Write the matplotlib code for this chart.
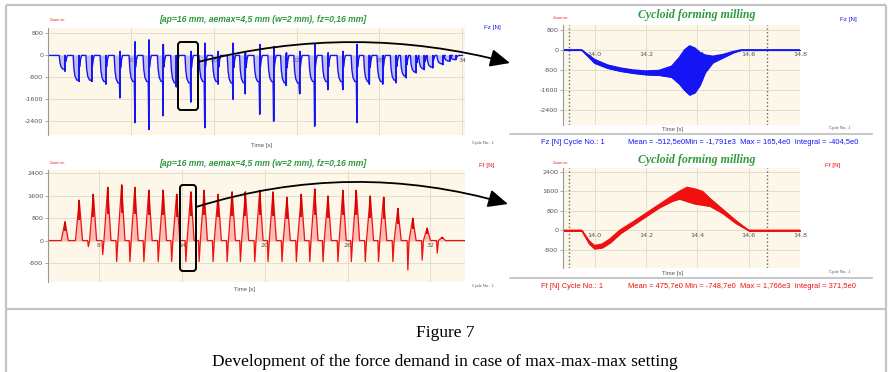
import matplotlib
matplotlib.use("Agg")
import matplotlib.pyplot as plt
from matplotlib.patches import FancyArrowPatch, FancyBboxPatch

W, H = 890, 372

# ---- overview Fz (one entry per milling cycle) ----
fz_span = [4.0, 34.0]
fz_time = [5.23, 6.24, 7.16, 8.19, 9.21, 10.29, 11.30, 12.34, 13.30, 14.34, 15.35,
           16.32, 17.40, 18.29, 19.33, 20.34, 21.26, 22.22, 23.31, 24.27, 25.35,
           26.37, 27.28, 28.24, 29.21, 29.94, 30.66, 31.26, 31.86, 32.58, 33.10, 33.55]
fz_plateau = [-500, -900, -900, -950, -1000, -950, -950, -950, -1000, -1000, -950,
              -950, -1000, -1000, -950, -950, -1000, -1000, -950, -950, -950,
              -950, -950, -950, -900, -750, -600, -480, -420, -300, -200, -150]
fz_min = [-580, -950, -950, -1050, -1550, -2450, -2700, -2200, -1150, -1700, -2640,
          -1050, -1600, -1400, -2150, -2400, -1100, -1400, -2580, -1250, -1250,
          -2450, -1050, -1050, -1000, -820, -640, -520, -460, -340, -220, -160]
fz_max = [0, 0, 0, 0, 150, 500, 570, 400, 0, 150, 450,
          150, 450, 100, 400, 330, 100, 150, 400, 100, 150,
          400, 0, 0, 0, 0, 0, 0, 0, 0, 0, 0]

# ---- overview Ff ----
ff_span = [4.31, 34.5]
ff_time = [5.54, 6.57, 7.59, 8.63, 9.64, 10.60, 11.61, 12.65, 13.62, 14.65, 15.61,
           16.62, 17.64, 18.60, 19.64, 20.60, 21.61, 22.65, 23.62, 24.58, 25.66,
           26.63, 27.64, 28.60, 29.64, 30.72, 31.76, 32.85]
ff_peak = [680, 1440, 1650, 1900, 2000, 1900, 1800, 1800, 1650, 1750, 1800,
           1650, 1750, 1750, 1800, 1750, 1550, 1650, 1850, 1600, 1800,
           1800, 1600, 1550, 1150, 800, 450, 120]
ff_dip = [0, 0, -215, -500, -750, -750, -750, -750, -750, -750, -750,
          -750, -750, -750, -750, -750, -750, -750, -750, -750, -750,
          -750, -750, -750, -750, -1050, -700, -450]

# ---- zoomed cycle No. 1 (noise band: upper / lower envelope) ----
fz_zoom_t = [13.88, 13.95, 14.00, 14.05, 14.10, 14.15, 14.20, 14.25, 14.30, 14.33,
             14.35, 14.37, 14.39, 14.41, 14.43, 14.46, 14.50, 14.54, 14.57, 14.80]
fz_zoom_hi = [0, 0, -380, -600, -720, -800, -840, -820, -650, -300,
              0, 165, 80, -100, -200, -250, -180, -60, 0, 0]
fz_zoom_lo = [0, 0, -520, -720, -840, -920, -980, -1000, -1080, -1350,
              -1600, -1791, -1700, -1400, -900, -500, -300, -100, 0, 0]

ff_zoom_t = [13.88, 13.95, 13.98, 14.00, 14.03, 14.06, 14.10, 14.15, 14.20, 14.25,
             14.30, 14.33, 14.36, 14.39, 14.42, 14.45, 14.50, 14.55, 14.60, 14.80]
ff_zoom_hi = [0, 0, -450, -620, -560, -350, 20, 350, 700, 1050,
              1400, 1600, 1766, 1700, 1600, 1300, 850, 400, 0, 0]
ff_zoom_lo = [0, 0, -550, -748, -700, -500, -120, 230, 580, 930,
              1200, 1300, 1200, 1100, 1050, 1000, 700, 300, 0, 0]
cycle_marks = [13.90, 14.67]

fz_stats = "Mean = -512,5e0Min = -1,791e3  Max = 165,4e0  Integral = -404,5e0"
ff_stats = "Mean = 475,7e0 Min = -748,7e0  Max = 1,766e3  Integral = 371,5e0"
run_title = "[ap=16 mm, aemax=4,5 mm (w=2 mm), fz=0,16 mm]"

BLUE = "#1414f5"
RED = "#f01010"
GREEN = "#2f9a3c"
CREAM = "#fcf7e8"
GRID = "#e2ddcc"
TXT = "#555555"

fig = plt.figure(figsize=(W / 100, H / 100), dpi=100)
fig.patch.set_facecolor("white")


def px_axes(x0, y0, x1, y1):
    return fig.add_axes([x0 / W, 1 - y1 / H, (x1 - x0) / W, (y1 - y0) / H])


def style_panel(ax, xlim, ylim, xticks, xlabels, yticks):
    ax.set_facecolor(CREAM)
    ax.set_xlim(xlim)
    ax.set_ylim(ylim)
    ax.set_xticks(xticks)
    ax.set_xticklabels(xlabels)
    ax.set_yticks(yticks)
    ax.set_yticklabels([str(v) for v in yticks])
    ax.spines["bottom"].set_position(("data", 0))
    ax.spines["bottom"].set_visible(False)
    ax.spines["top"].set_visible(False)
    ax.spines["right"].set_visible(False)
    ax.spines["left"].set_color("#9a9a9a")
    ax.spines["left"].set_linewidth(0.8)
    ax.tick_params(axis="x", length=0, pad=1.5, labelsize=4.6, labelcolor=TXT)
    ax.tick_params(axis="y", length=2, width=0.6, color="#9a9a9a", pad=1.5,
                   labelsize=4.6, labelcolor=TXT)
    ax.grid(True, color=GRID, lw=0.7)
    ax.set_axisbelow(True)


# ---------------- overview Fz ----------------
ax1 = px_axes(48, 28, 465, 135)
style_panel(ax1, (4.0, 34.2), (-2900, 1000), [10, 16, 22, 28, 34],
            ["10", "16", "22", "28", "34"], [800, 0, -800, -1600, -2400])
xs, ys = [fz_span[0]], [0]
for t, p, lo, hi in zip(fz_time, fz_plateau, fz_min, fz_max):
    xs += [t - 0.42, t - 0.36, t - 0.28, t - 0.15, t - 0.04, t, t + 0.015, t + 0.05, t + 0.12, t + 0.19]
    ys += [0, 0.55 * p, 0.85 * p, p, p, lo, hi, 0.45 * p, 0.15 * p, 0]
xs.append(fz_span[1])
ys.append(0)
ax1.fill_between(xs, ys, 0, color="#7a7aff", alpha=0.45, lw=0)
ax1.plot(xs, ys, color=BLUE, lw=1.0)
ax1.vlines(fz_time, fz_min, fz_max, color=BLUE, lw=1.3)

# ---------------- overview Ff ----------------
ax2 = px_axes(48, 170, 465, 282)
style_panel(ax2, (4.31, 34.5), (-1480, 2520), [8, 14, 20, 26, 32],
            ["8", "14", "20", "26", "32"], [2400, 1600, 800, 0, -800])
xs, ys = [ff_span[0]], [0]
for t, pk, dp in zip(ff_time, ff_peak, ff_dip):
    xs += [t - 0.41, t - 0.36, t - 0.27, t, t + 0.24]
    ys += [0, dp, 0, pk, 0]
xs.append(ff_span[1])
ys.append(0)
ax2.fill_between(xs, ys, 0, color="#ff7a7a", alpha=0.45, lw=0)
ax2.plot(xs, ys, color=RED, lw=0.9)
ax2.vlines(ff_time, [0.5 * v for v in ff_peak], ff_peak, color="#d00000", lw=1.3)

# ---------------- zoomed Fz ----------------
ax3 = px_axes(563, 25, 800, 125)
style_panel(ax3, (13.877, 14.79), (-3000, 1000), [14.0, 14.2, 14.4, 14.6, 14.8],
            ["14.0", "14.2", "14.4", "14.6", "14.8"], [800, 0, -800, -1600, -2400])
for m in cycle_marks:
    ax3.axvline(m, color="#666666", ls=":", lw=1.0, zorder=1)
ax3.fill_between(fz_zoom_t, fz_zoom_lo, fz_zoom_hi, color=BLUE, lw=0.8, edgecolor=BLUE)
ax3.plot(fz_zoom_t, fz_zoom_hi, color=BLUE, lw=1.0)
ax3.plot(fz_zoom_t, fz_zoom_lo, color=BLUE, lw=1.0)

# ---------------- zoomed Ff ----------------
ax4 = px_axes(563, 168, 800, 268)
style_panel(ax4, (13.877, 14.79), (-1540, 2560), [14.0, 14.2, 14.4, 14.6, 14.8],
            ["14.0", "14.2", "14.4", "14.6", "14.8"], [2400, 1600, 800, 0, -800])
for m in cycle_marks:
    ax4.axvline(m, color="#666666", ls=":", lw=1.0, zorder=1)
ax4.fill_between(ff_zoom_t, ff_zoom_lo, ff_zoom_hi, color=RED, lw=0.8, edgecolor=RED)
ax4.plot(ff_zoom_t, ff_zoom_hi, color=RED, lw=1.0)
ax4.plot(ff_zoom_t, ff_zoom_lo, color=RED, lw=1.0)

# ---------------- overlay in pixel coordinates ----------------
ov = fig.add_axes([0, 0, 1, 1])
ov.set_xlim(0, W)
ov.set_ylim(H, 0)
ov.axis("off")
ov.set_zorder(10)

frame = dict(color="#c4c4c4", lw=1.6, solid_capstyle="butt")
ov.plot([6, 886], [5, 5], **frame)
ov.plot([6, 6], [5, H], **frame)
ov.plot([886, 886], [5, H], **frame)
ov.plot([6, 886], [309, 309], **frame)

serif = "Liberation Serif"
sans = "Liberation Sans"

# left panels
for y_zoom, y_title, y_time, x_time in [(20, 20, 145, 262), (163, 163, 289, 245)]:
    ov.text(50, y_zoom, "Zoom on", color=RED, fontsize=2.6, family=sans, va="center")
    ov.text(263, y_title, run_title, color=GREEN, fontsize=6.2, style="italic",
            weight="semibold", family=sans, ha="center", va="center")
    ov.text(x_time, y_time, "Time [s]", color=TXT, fontsize=4.3, family=sans,
            ha="center", va="center")
ov.text(492, 28, "Fz [N]", color=BLUE, fontsize=4.5, family=sans, ha="center", va="center")
ov.text(487, 166, "Ff [N]", color=RED, fontsize=4.5, family=sans, ha="center", va="center")

# right panels
panels = [(15, 20, 130, 128, 134, 143, "Fz [N]", BLUE, 848, fz_stats),
          (160, 166, 273, 272, 278, 286, "Ff [N]", RED, 833, ff_stats)]
for y_t, y_lab, y_time, y_cyc, y_rule, y_stat, lab, col, x_lab, stats in panels:
    ov.text(553, y_t + 3, "Zoom on", color=RED, fontsize=2.6, family=sans, va="center")
    ov.text(697, y_t, "Cycloid forming milling", color=GREEN, fontsize=8.6,
            family=serif, style="italic", weight="bold", ha="center", va="center")
    ov.text(x_lab, y_lab, lab, color=col, fontsize=4.5, family=sans, ha="center", va="center")
    ov.text(673, y_time, "Time [s]", color=TXT, fontsize=4.3, family=sans,
            ha="center", va="center")
    ov.text(840, y_cyc, "Cycle No.: 1", color=TXT, fontsize=2.8, family=sans,
            ha="center", va="center")
    ov.text(483, y_stat, "Cycle No.: 1", color=TXT, fontsize=2.8, family=sans,
            ha="center", va="center")
    ov.plot([510, 872], [y_rule, y_rule], color="#bdbdbd", lw=1.2)
    ov.text(541, y_stat, lab + " Cycle No.: 1", color=col, fontsize=5.4, family=sans,
            va="center")
    ov.text(628, y_stat, stats, color=col, fontsize=5.4, family=sans, va="center")

# zoom boxes and arrows
for (x0, y0, x1, y1) in [(178, 42, 198, 110), (180, 185, 196, 271)]:
    ov.add_patch(FancyBboxPatch((x0, y0), x1 - x0, y1 - y0,
                                boxstyle="round,pad=0,rounding_size=3",
                                ec="black", fc="none", lw=1.4))
for start, end, rad in [((198, 62), (510, 63), -0.13), ((196, 207), (508, 204), -0.15)]:
    ov.add_patch(FancyArrowPatch(start, end, connectionstyle=f"arc3,rad={rad}",
                                 arrowstyle="-|>,head_length=1.0,head_width=0.45",
                                 mutation_scale=12, color="black", lw=1.3,
                                 shrinkA=0, shrinkB=0))

# caption
ov.text(445, 333, "Figure 7", family=serif, fontsize=12.5, ha="center", va="center")
ov.text(445, 362, "Development of the force demand in case of max-max-max setting",
        family=serif, fontsize=12.5, ha="center", va="center")

fig.savefig("out.png", dpi=100)
